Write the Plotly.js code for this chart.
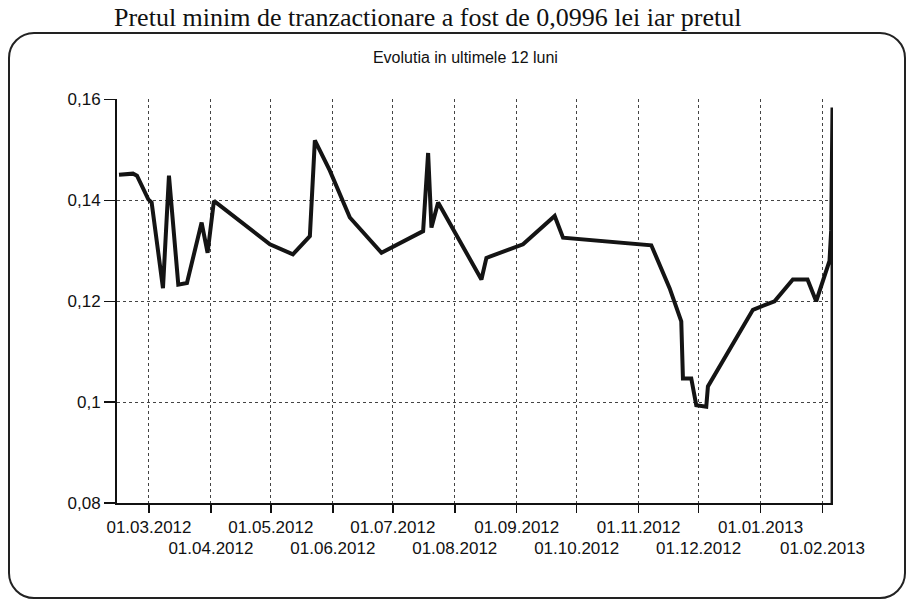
<!DOCTYPE html>
<html>
<head>
<meta charset="utf-8">
<script src="https://cdn.plot.ly/plotly-3.0.1.min.js"></script>
<style>
  html, body { margin: 0; padding: 0; background: #fff; }
  #wrap { position: relative; width: 909px; height: 602px; overflow: hidden; }
  #chart { position: absolute; left: 0; top: 0; width: 909px; height: 602px; }
  #frame { position: absolute; left: 8px; top: 32px; width: 894px; height: 563px;
           border: 2px solid #222; border-radius: 26px; pointer-events: none; }
</style>
</head>
<body>
<div id="wrap">
  <div id="chart"></div>
  <div id="frame"></div>
</div>
<script>
// Price series (date, value)
const dates = [
  "2012-02-15", "2012-02-22", "2012-02-24", "2012-02-29 16:00", "2012-03-02 08:00",
  "2012-03-08", "2012-03-11", "2012-03-15 16:00", "2012-03-20", "2012-03-27 08:00",
  "2012-03-30 08:00", "2012-04-02 12:00", "2012-04-30 12:00", "2012-05-12", "2012-05-20 12:00",
  "2012-05-23", "2012-05-30 12:00", "2012-06-09 12:00", "2012-06-25 08:00", "2012-07-16 04:00",
  "2012-07-18 16:00", "2012-07-20 08:00", "2012-07-23 16:00", "2012-08-14 08:00", "2012-08-16 20:00",
  "2012-09-04 04:00", "2012-09-20", "2012-09-24 04:00", "2012-11-07 08:00", "2012-11-16 12:00",
  "2012-11-22 08:00", "2012-11-23 04:00", "2012-11-27 08:00", "2012-11-29 20:00", "2012-12-04 20:00",
  "2012-12-05 16:00", "2012-12-28 04:00", "2013-01-08", "2013-01-17 04:00", "2013-01-24 12:00",
  "2013-01-28 20:00", "2013-02-04 12:00", "2013-02-05 08:00", "2013-02-06", "2013-02-06 01:00"
];
const prices = [
  0.1451, 0.1453, 0.1449, 0.1402, 0.1396,
  0.1226, 0.1449, 0.1233, 0.1236, 0.1356,
  0.1296, 0.1399, 0.1313, 0.1293, 0.1329,
  0.1519, 0.1459, 0.1366, 0.1296, 0.1339,
  0.1494, 0.1346, 0.1396, 0.1243, 0.1286,
  0.1313, 0.1369, 0.1326, 0.1311, 0.1226,
  0.1160, 0.1047, 0.1047, 0.0994, 0.0991,
  0.1031, 0.1183, 0.1200, 0.1243, 0.1243,
  0.1200, 0.1280, 0.1340, 0.1584, 0.0800
];

// Axis ticks
const monthTicks = ["2012-03-01","2012-04-01","2012-05-01","2012-06-01","2012-07-01","2012-08-01",
                    "2012-09-01","2012-10-01","2012-11-01","2012-12-01","2013-01-01","2013-02-01"];
const monthLabels = ["01.03.2012","01.04.2012","01.05.2012","01.06.2012","01.07.2012","01.08.2012",
                     "01.09.2012","01.10.2012","01.11.2012","01.12.2012","01.01.2013","01.02.2013"];
const yTicks = [0.08, 0.10, 0.12, 0.14, 0.16];
const yLabels = ["0,08", "0,1", "0,12", "0,14", "0,16"];

const titleText = "Evolutia in ultimele 12 luni";
const headText = "Pretul minim de tranzactionare a fost de 0,0996 lei iar pretul";

const upperText = monthLabels.map((t, i) => i % 2 === 0 ? t : "");
const lowerVals = monthTicks.filter((t, i) => i % 2 === 1);
const lowerText = monthLabels.filter((t, i) => i % 2 === 1);

const xRange = ["2012-02-14", "2013-02-06 06:00"];
const tickFont = { family: "Liberation Sans, Arial, sans-serif", size: 17, color: "#111" };

const trace = {
  x: dates, y: prices, type: "scatter", mode: "lines",
  line: { color: "#141414", width: 4 },
  xaxis: "x", yaxis: "y", hoverinfo: "skip"
};

const layout = {
  width: 909, height: 602,
  margin: { l: 117, r: 76, t: 99, b: 99 },
  paper_bgcolor: "rgba(0,0,0,0)",
  plot_bgcolor: "rgba(0,0,0,0)",
  showlegend: false,
  title: {
    text: titleText, x: 0.512, xanchor: "center", y: 0.905, yanchor: "middle",
    xref: "container", yref: "container",
    font: { family: "Liberation Sans, Arial, sans-serif", size: 16, color: "#111" }
  },
  xaxis: {
    type: "date", range: xRange,
    tickmode: "array", tickvals: monthTicks, ticktext: upperText,
    ticks: "outside", ticklen: 8, tickwidth: 1.5, tickcolor: "#111",
    showline: true, linecolor: "#111", linewidth: 2,
    showgrid: true, gridcolor: "#444", gridwidth: 1, griddash: "dot",
    zeroline: false, tickfont: tickFont, tickangle: 0
  },
  xaxis2: {
    type: "date", range: xRange, overlaying: "x", anchor: "y", side: "bottom",
    tickmode: "array", tickvals: lowerVals, ticktext: lowerText,
    ticks: "", showline: false, showgrid: false, zeroline: false,
    ticklabelstandoff: 33, tickfont: tickFont, tickangle: 0
  },
  yaxis: {
    range: [0.08, 0.1601],
    tickmode: "array", tickvals: yTicks, ticktext: yLabels,
    ticks: "outside", ticklen: 11, tickwidth: 1.5, tickcolor: "#111",
    showline: true, linecolor: "#111", linewidth: 2,
    showgrid: true, gridcolor: "#444", gridwidth: 1, griddash: "dot",
    zeroline: false, tickfont: tickFont
  },
  annotations: [
    { text: headText, xref: "paper", yref: "paper", x: (112 - 117) / 716, xanchor: "left",
      y: (503 - 1) / 404, yanchor: "top", showarrow: false,
      font: { family: "Liberation Serif, Times New Roman, serif", size: 26, color: "#111" } }
  ]
};

// invisible helper trace that activates the second (lower-row label) x axis
const trace2 = { x: [dates[0]], y: [prices[0]], xaxis: "x2", yaxis: "y", type: "scatter",
  mode: "markers", marker: { opacity: 0 }, hoverinfo: "skip" };

Plotly.newPlot("chart", [trace, trace2], layout, { staticPlot: true, displayModeBar: false });
</script>
</body>
</html>
